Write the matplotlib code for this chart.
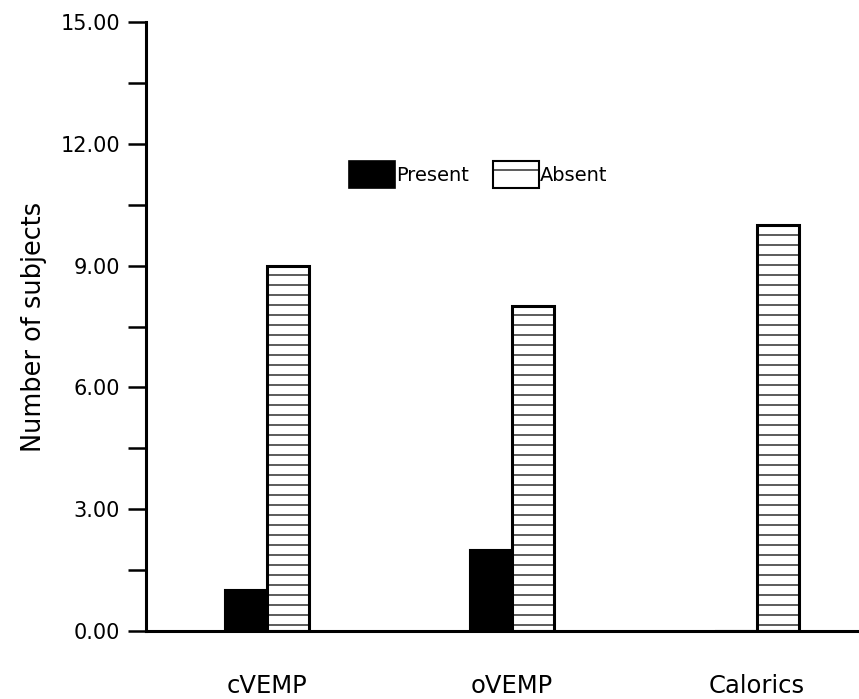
import matplotlib
matplotlib.use("Agg")
import matplotlib.pyplot as plt
import numpy as np
from matplotlib.patches import Patch
from matplotlib.ticker import MultipleLocator, FormatStrFormatter

categories = ["cVEMP", "oVEMP", "Calorics"]
present = [1, 2, 0]
absent = [9, 8, 10]

DPI = 120
S = 100.0 / DPI  # convert "100-dpi points" to points at this dpi

plt.rcParams['hatch.linewidth'] = 0.9 * S
plt.rcParams['font.family'] = ['DejaVu Sans']

fig = plt.figure(figsize=(859 / DPI, 699 / DPI), dpi=DPI)
ax = fig.add_axes([0.170, 0.0973, 0.830, 0.8712])

x = np.arange(len(categories))
w = 0.171
ax.bar(x - w / 2, present, w, color='black', edgecolor='black', linewidth=1.5 * S, label='Present')
ax.bar(x + w / 2, absent, w, color='white', edgecolor='black', linewidth=2.2 * S, hatch='--', label='Absent')

ax.set_xlim(-0.494, 2.416)
ax.set_ylim(0, 15)
ax.yaxis.set_major_locator(MultipleLocator(3))
ax.yaxis.set_minor_locator(MultipleLocator(1.5))
ax.yaxis.set_major_formatter(FormatStrFormatter('%.2f'))
ax.tick_params(axis='y', which='both', direction='out', length=18 * S * 0.72, width=1.8 * S,
               labelsize=15 * S, pad=8 * S * 0.72)
ax.set_xticks([])
for s in ['top', 'right']:
    ax.spines[s].set_visible(False)
ax.spines['left'].set_linewidth(2.2 * S)
ax.spines['bottom'].set_linewidth(2.2 * S)

for xi, c in zip(x, categories):
    ax.text(xi, -1.35, c, ha='center', va='center', fontsize=17.5 * S)

ax.set_ylabel("Number of subjects", fontsize=18.5 * S, labelpad=10 * S)

handles = [Patch(facecolor='black', edgecolor='black', label='Present'),
           Patch(facecolor='white', edgecolor='black', hatch='-', linewidth=1.5 * S, label='Absent')]
ax.legend(handles=handles, loc='center', bbox_to_anchor=(0.466, 0.749), ncol=2, frameon=False,
          handlelength=2.4, handleheight=1.75, handletextpad=0.05, columnspacing=1.2,
          fontsize=14 * S, borderpad=0)

fig.savefig("out.png", dpi=DPI)
